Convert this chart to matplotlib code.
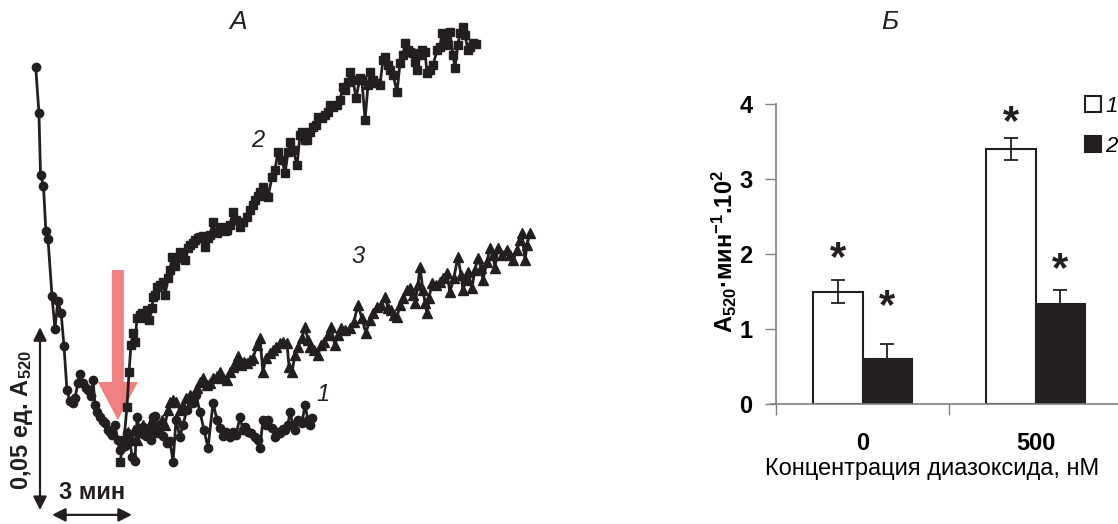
import matplotlib
matplotlib.use('Agg')
import matplotlib.pyplot as plt

plt.rcParams['font.family'] = ['Liberation Sans', 'DejaVu Sans']
plt.rcParams['mathtext.fontset'] = 'custom'
plt.rcParams['mathtext.rm'] = 'Liberation Sans:bold'
plt.rcParams['mathtext.it'] = 'Liberation Sans:italic:bold'
plt.rcParams['mathtext.bf'] = 'Liberation Sans:bold'

INK = '#231f20'

# ---- panel A: kinetics, time in min, dA520 in 10^-3 units ----
t1 = [0.03, 0.15, 0.21, 0.32, 0.41, 0.49, 0.64, 0.75, 0.86, 0.98, 1.09, 1.20, 1.31, 1.43,
      1.50, 1.61, 1.69, 1.80, 1.91, 1.99, 2.10, 2.18, 2.25, 2.33, 2.44, 2.55, 2.63, 2.74,
      2.81, 2.89, 3.00, 3.11, 3.19, 3.26, 3.38, 3.45, 3.56, 3.64, 3.75, 3.83, 3.94, 4.05,
      4.16, 4.24, 4.35, 4.43, 4.50, 4.58, 4.69, 4.80, 4.95, 5.06, 5.18, 5.29, 5.44, 5.55,
      5.70, 5.81, 5.93, 6.04, 6.19, 6.34, 6.49, 6.68, 6.83, 6.94, 7.05, 7.16, 7.31, 7.43,
      7.54, 7.69, 7.80, 7.88, 7.99, 8.10, 8.25, 8.36, 8.44, 8.55, 8.66, 8.74, 8.89, 9.00,
      9.11, 9.19, 9.30, 9.38, 9.49, 9.56, 9.68, 9.75, 9.86, 10.01, 10.13, 10.24, 10.31, 10.39]
a1 = [107.4, 94.8, 77.9, 74.9, 62.6, 60.4, 44.8, 35.8, 43.4, 40.2, 31.1, 19.1, 16.1, 15.6,
      16.9, 21.0, 23.5, 21.0, 19.7, 19.1, 17.5, 21.9, 15.0, 13.1, 11.7, 10.7, 10.1, 8.2,
      7.6, 6.8, 9.6, 5.5, 2.7, 4.4, 3.8, 7.4, 5.5, 0.8, -0.3, 11.7, 7.4, 9.0,
      6.6, 8.2, 5.5, 11.7, 12.0, 7.4, 8.7, 6.6, 4.6, 5.2, -0.5, 10.9, 6.3, 9.6,
      13.7, 16.4, 15.6, 17.8, 13.1, 8.2, 3.3, 15.6, 10.9, 8.7, 6.6, 7.6, 6.3, 7.6,
      6.8, 11.7, 8.2, 9.0, 7.6, 7.4, 6.3, 5.5, 3.3, 10.9, 9.6, 10.9, 8.7, 6.3,
      7.6, 7.4, 8.5, 8.2, 9.6, 13.1, 9.6, 8.2, 10.9, 10.1, 15.0, 10.9, 9.6, 11.5]

t2 = [3.19, 3.34, 3.45, 3.53, 3.60, 3.68, 3.75, 3.83, 3.94, 4.01, 4.13, 4.20, 4.28, 4.39,
      4.43, 4.50, 4.58, 4.69, 4.80, 4.88, 4.99, 5.06, 5.14, 5.25, 5.36, 5.44, 5.55, 5.63,
      5.74, 5.81, 5.93, 6.00, 6.11, 6.19, 6.30, 6.38, 6.49, 6.56, 6.68, 6.75, 6.83, 6.94,
      7.01, 7.13, 7.20, 7.31, 7.43, 7.54, 7.69, 7.80, 7.95, 8.06, 8.18, 8.25, 8.36, 8.44,
      8.55, 8.66, 8.74, 8.89, 9.00, 9.11, 9.26, 9.38, 9.49, 9.56, 9.68, 9.83, 9.94, 10.01,
      10.13, 10.20, 10.31, 10.43, 10.54, 10.61, 10.76, 10.88, 10.99, 11.06, 11.18, 11.33,
      11.44, 11.55, 11.63, 11.74, 11.81, 11.93, 12.04, 12.19, 12.26, 12.38, 12.49, 12.56,
      12.68, 12.83, 12.94, 13.05, 13.13, 13.24, 13.31, 13.43, 13.58, 13.69, 13.80, 13.88,
      13.99, 14.06, 14.18, 14.25, 14.33, 14.44, 14.51, 14.63, 14.70, 14.81, 14.93, 15.08,
      15.19, 15.26, 15.38, 15.49, 15.56, 15.68, 15.75, 15.86, 15.94, 16.05, 16.13, 16.24,
      16.31, 16.43, 16.54]
a2 = [-0.5, 5.5, 14.5, 24.0, 31.4, 34.7, 32.2, 38.8, 39.6, 40.2, 38.8, 41.0, 38.2, 41.5,
      44.5, 45.1, 47.3, 47.8, 48.6, 45.1, 49.7, 51.9, 55.5, 53.0, 55.2, 56.8, 55.7, 54.6,
      57.9, 58.7, 59.3, 60.1, 60.7, 60.9, 61.2, 58.2, 60.7, 61.5, 65.0, 62.3, 62.0, 63.4,
      63.7, 62.6, 62.8, 64.2, 67.8, 65.6, 63.7, 65.0, 66.4, 68.3, 69.7, 71.0, 72.1, 73.2,
      74.6, 72.1, 71.9, 77.3, 79.2, 84.1, 82.0, 78.4, 84.1, 86.9, 84.7, 80.6, 88.8, 89.6,
      87.4, 87.4, 89.6, 91.0, 91.5, 93.7, 93.4, 94.3, 95.1, 97.0, 96.4, 97.0,
      98.4, 101.9, 101.1, 103.3, 106.0, 103.8, 98.9, 104.4, 103.8, 92.9, 102.5, 106.0,
      103.8, 103.0, 102.5, 109.3, 110.1, 107.9, 106.5, 105.2, 100.5, 108.5, 110.6, 113.9,
      112.0, 111.5, 111.2, 108.7, 106.5, 110.6, 112.0, 111.5, 105.7, 106.5, 107.9, 112.0,
      112.8, 116.7, 114.7, 113.4, 116.9, 110.6, 107.1, 113.4, 116.7, 118.3, 116.1, 112.0,
      112.8, 113.9, 113.7]

t3 = [3.23, 3.38, 3.49, 3.60, 3.71, 3.83, 3.94, 4.05, 4.16, 4.28, 4.39, 4.50, 4.61, 4.76,
      4.88, 4.99, 5.06, 5.18, 5.29, 5.44, 5.55, 5.66, 5.81, 5.93, 6.08, 6.19, 6.30, 6.45,
      6.56, 6.68, 6.83, 6.94, 7.05, 7.20, 7.31, 7.43, 7.54, 7.61, 7.73, 7.84, 7.95, 8.06,
      8.18, 8.33, 8.44, 8.55, 8.66, 8.81, 8.93, 9.04, 9.19, 9.30, 9.45, 9.53, 9.64, 9.75,
      9.86, 10.01, 10.13, 10.24, 10.31, 10.46, 10.61, 10.73, 10.84, 10.99, 11.10, 11.25,
      11.36, 11.48, 11.63, 11.81, 11.96, 12.11, 12.26, 12.41, 12.56, 12.68, 12.83, 12.98,
      13.13, 13.24, 13.35, 13.46, 13.58, 13.69, 13.80, 13.95, 14.06, 14.18, 14.25, 14.36,
      14.44, 14.55, 14.63, 14.70, 14.78, 14.89, 15.04, 15.19, 15.30, 15.45, 15.56, 15.71,
      15.86, 15.98, 16.05, 16.16, 16.24, 16.39, 16.50, 16.61, 16.73, 16.80, 16.95, 17.06,
      17.18, 17.25, 17.36, 17.51, 17.70, 17.81, 17.93, 18.08, 18.19, 18.26, 18.38, 18.45,
      18.56]
a3 = [4.1, 5.5, 7.6, 5.5, 8.2, 5.5, 7.6, 9.6, 7.4, 8.7, 10.9, 8.2, 9.6, 10.9,
      9.6, 13.7, 15.8, 16.4, 15.8, 13.7, 14.8, 16.9, 17.8, 17.5, 19.7, 21.3, 22.4, 20.5,
      21.0, 22.4, 22.9, 24.0, 22.4, 21.9, 24.0, 25.4, 26.5, 28.4, 26.0, 26.8, 26.5, 27.3,
      27.9, 31.4, 33.3, 24.0, 27.9, 29.2, 30.1, 30.9, 32.0, 32.2, 32.0, 25.4, 24.0, 28.7,
      30.9, 33.3, 36.3, 32.8, 30.9, 30.1, 28.7, 31.4, 32.2, 34.2, 36.3, 31.4,
      34.2, 36.1, 35.5, 36.1, 37.7, 42.3, 38.8, 34.7, 38.2, 40.2, 41.8, 42.3,
      44.5, 41.5, 41.0, 39.6, 39.1, 42.3, 44.3, 46.4, 47.0, 45.1, 42.9, 47.8,
      52.7, 46.4, 42.9, 40.2, 44.3, 48.4, 47.8, 48.6, 49.7, 51.1, 45.9, 49.7,
      55.5, 50.5, 46.4, 49.2, 51.4, 47.0, 51.9, 55.2, 52.5, 49.2, 54.1, 57.9,
      56.0, 52.5, 57.9, 56.0, 57.4, 56.0, 54.6, 57.4, 60.1, 62.0, 54.6, 58.7,
      62.0]

# ---- panel B: rates ----
conc_labels = ['0', '500']
rate_1 = [1.5, 3.4]
err_1 = [0.15, 0.15]
rate_2 = [0.6, 1.33]
err_2 = [0.2, 0.19]
star_1 = [1.93, 3.75]
star_2 = [1.29, 1.79]

fig = plt.figure(figsize=(11.18, 5.24), dpi=100)

# panel A
ax1 = fig.add_axes([0, 0, 560 / 1118, 1])
ax1.set_xlim(-1.31, 19.69)
ax1.set_ylim(-17.5, 125.7)
ax1.axis('off')

ax1.arrow(3.11, 51.9, 0, -41.0, width=0.45, head_width=1.5, head_length=10.4,
          length_includes_head=True, color='#f08080', lw=0, zorder=1)

ax1.plot(t1, a1, '-o', color=INK, lw=2, ms=6, zorder=3)
ax1.plot(t2, a2, '-s', color=INK, lw=2, ms=6.3, zorder=3)
ax1.plot(t3, a3, '-^', color=INK, lw=2, ms=6.8, zorder=3)

ax1.text(8.35, 87.4, '2', fontsize=17, style='italic', ha='center', va='center', color=INK)
ax1.text(12.1, 55.5, '3', fontsize=17, style='italic', ha='center', va='center', color=INK)
ax1.text(10.8, 17.8, '1', fontsize=17, style='italic', ha='center', va='center', color=INK)
ax1.text(7.61, 119.7, 'А', fontsize=19, style='italic', ha='center', va='center', color=INK)

# scale bars
ax1.annotate('', xy=(0.19, 36.3), xytext=(0.19, -13.7),
             arrowprops=dict(arrowstyle='<|-|>', mutation_scale=20, lw=1.6, color=INK,
                             shrinkA=0, shrinkB=0))
ax1.annotate('', xy=(0.64, -15.0), xytext=(3.64, -15.0),
             arrowprops=dict(arrowstyle='<|-|>', mutation_scale=20, lw=1.6, color=INK,
                             shrinkA=0, shrinkB=0))
ax1.text(2.14, -9.0, '3 мин', fontsize=17, fontweight='bold', ha='center', va='center', color=INK)
ax1.text(-0.5, 10.9, '0,05 ед. A$_{520}$', fontsize=17, fontweight='bold', rotation=90,
         ha='center', va='center', color=INK)

# panel B
ax2 = fig.add_axes([776 / 1118, 120 / 524, 346 / 1118, 300 / 524])
x = [0, 1]
w = 0.285
ax2.bar([i - w / 2 for i in x], rate_1, width=w, color='white', edgecolor=INK, lw=1.5,
        yerr=err_1, error_kw=dict(ecolor=INK, elinewidth=1.3, capsize=5, capthick=1.3), label='1')
ax2.bar([i + w / 2 for i in x], rate_2, width=w, color=INK, edgecolor=INK, lw=1.5,
        yerr=err_2, error_kw=dict(ecolor=INK, elinewidth=1.3, capsize=5, capthick=1.3), label='2')

for i in x:
    ax2.text(i - w / 2, star_1[i], '*', fontsize=30, fontweight='bold', ha='center', va='center', color=INK)
    ax2.text(i + w / 2, star_2[i], '*', fontsize=30, fontweight='bold', ha='center', va='center', color=INK)

ax2.set_xlim(-0.5, 1.5)
ax2.set_ylim(0, 4)
ax2.set_yticks([0, 1, 2, 3, 4])
ax2.set_xticks(x)
ax2.set_xticklabels(conc_labels)
ax2.set_xticks([-0.5, 0.5, 1.5], minor=True)
ax2.tick_params(axis='y', length=8, width=1, color='#808080', pad=9, labelsize=17)
ax2.tick_params(axis='x', which='major', length=0, pad=20, labelsize=17)
ax2.tick_params(axis='x', which='minor', length=8, width=1, color='#808080')
for lab in ax2.get_xticklabels() + ax2.get_yticklabels():
    lab.set_fontweight('bold')
for side in ['top', 'right']:
    ax2.spines[side].set_visible(False)
for side in ['left', 'bottom']:
    ax2.spines[side].set_color('#808080')
    ax2.spines[side].set_linewidth(1.2)
ax2.spines['bottom'].set_bounds(-0.53, 1.5)

ax2.set_xlabel('Концентрация диазоксида, нМ', fontsize=17)
ax2.xaxis.set_label_coords(0.45, -0.215)
ax2.xaxis.label.set_va('center')
ax2.set_ylabel('A$_{520}$·мин$^{-1}$.10$^{2}$', fontsize=17, fontweight='bold')
ax2.yaxis.set_label_coords(-0.15, 0.51)
ax2.yaxis.label.set_va('center')

fig.text(890 / 1118, 1 - 22 / 524, 'Б', fontsize=19, style='italic', ha='center', va='center', color=INK)

ax2.legend(loc='upper left', bbox_to_anchor=(1085 / 1118, 1 - 96 / 524), bbox_transform=fig.transFigure,
           frameon=False, handlelength=0.72, handleheight=0.72, handletextpad=0.2, labelspacing=0.85,
           borderpad=0, borderaxespad=0, prop={'style': 'italic', 'size': 16})

fig.savefig('out.png', dpi=100)
